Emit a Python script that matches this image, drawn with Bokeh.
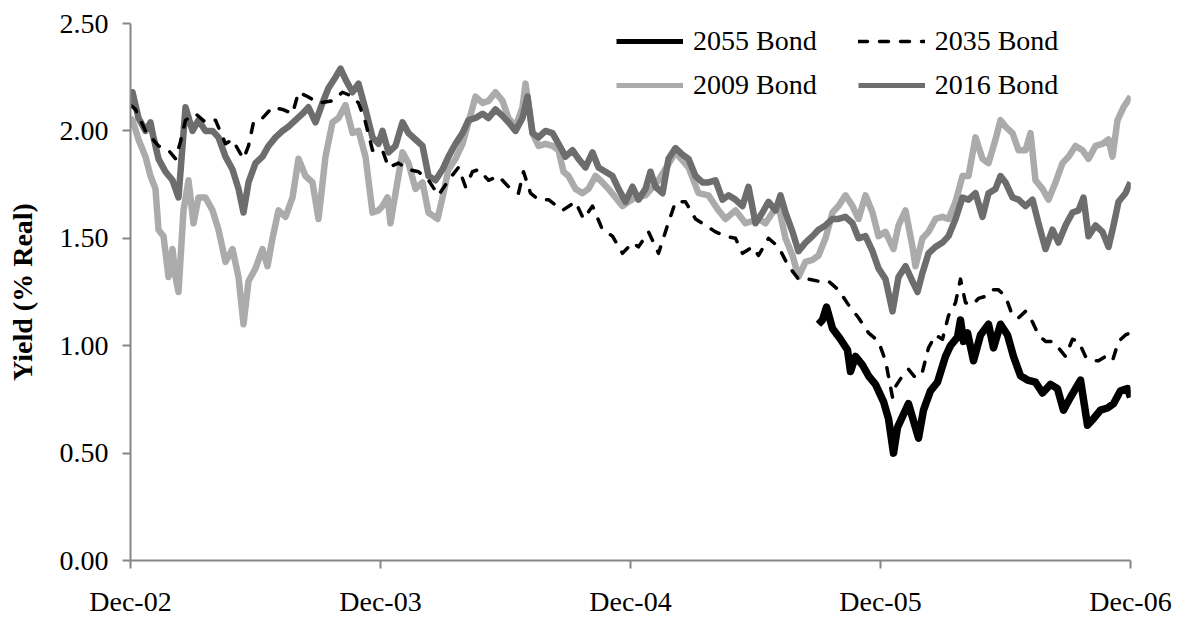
from bokeh.plotting import figure
from bokeh.models import Range1d, FixedTicker, Legend, LegendItem
from bokeh.embed import file_html
from bokeh.resources import INLINE

# x values: years after Dec-02 (0 = Dec-02, 4 = Dec-06); y values: yield (% real)
tick_years = [0, 1, 2, 3, 4]
tick_labels = ["Dec-02", "Dec-03", "Dec-04", "Dec-05", "Dec-06"]
y_ticks = [0.0, 0.5, 1.0, 1.5, 2.0, 2.5]

t2016 = [0, 0.008, 0.032, 0.06, 0.08, 0.088, 0.112, 0.14, 0.168, 0.192, 0.22, 0.248, 0.272, 0.3, 0.328,
         0.352, 0.38, 0.408, 0.432, 0.452, 0.472, 0.5, 0.528, 0.552, 0.58, 0.608, 0.632, 0.66, 0.688, 0.712,
         0.74, 0.768, 0.792, 0.82, 0.84, 0.86, 0.888, 0.912, 0.94, 0.968, 0.992, 1.008, 1.032, 1.06, 1.088,
         1.112, 1.14, 1.168, 1.192, 1.22, 1.248, 1.272, 1.3, 1.328, 1.352, 1.38, 1.408, 1.432, 1.46, 1.488,
         1.512, 1.54, 1.568, 1.588, 1.608, 1.632, 1.66, 1.688, 1.712, 1.74, 1.768, 1.792, 1.82, 1.848, 1.872,
         1.9, 1.928, 1.952, 1.98, 2.008, 2.032, 2.06, 2.08, 2.1, 2.128, 2.152, 2.18, 2.208, 2.232, 2.26,
         2.288, 2.312, 2.34, 2.368, 2.392, 2.42, 2.448, 2.472, 2.5, 2.528, 2.552, 2.58, 2.6, 2.62, 2.648,
         2.672, 2.7, 2.728, 2.752, 2.78, 2.808, 2.832, 2.86, 2.888, 2.912, 2.94, 2.968, 2.992, 3.02, 3.048,
         3.072, 3.1, 3.128, 3.148, 3.168, 3.192, 3.22, 3.248, 3.272, 3.3, 3.328, 3.352, 3.38, 3.408, 3.432,
         3.46, 3.48, 3.5, 3.528, 3.552, 3.58, 3.608, 3.632, 3.66, 3.688, 3.712, 3.74, 3.768, 3.792, 3.812,
         3.832, 3.86, 3.888, 3.912, 3.932, 3.952, 3.98, 4.0]
y2016 = [2.13, 2.18, 2.06, 2.00, 2.04, 1.99, 1.87, 1.81, 1.77, 1.69, 2.11, 2.00, 2.05, 2.00, 2.00,
         1.97, 1.88, 1.82, 1.73, 1.62, 1.76, 1.85, 1.88, 1.93, 1.97, 2.00, 2.02, 2.05, 2.08, 2.11,
         2.04, 2.13, 2.20, 2.25, 2.29, 2.24, 2.18, 2.22, 2.10, 1.97, 1.94, 2.00, 1.90, 1.93, 2.04,
         1.99, 1.96, 1.93, 1.79, 1.77, 1.82, 1.88, 1.94, 1.99, 2.05, 2.06, 2.08, 2.06, 2.10, 2.07,
         2.04, 2.00, 2.06, 2.16, 1.99, 1.97, 2.00, 1.99, 1.94, 1.88, 1.91, 1.87, 1.83, 1.90, 1.83,
         1.81, 1.79, 1.73, 1.67, 1.74, 1.68, 1.73, 1.81, 1.74, 1.71, 1.87, 1.92, 1.89, 1.87, 1.79,
         1.76, 1.76, 1.77, 1.68, 1.70, 1.68, 1.65, 1.74, 1.57, 1.62, 1.67, 1.63, 1.70, 1.62, 1.53,
         1.44, 1.48, 1.51, 1.54, 1.56, 1.59, 1.59, 1.60, 1.57, 1.50, 1.51, 1.44, 1.36, 1.31, 1.16,
         1.32, 1.37, 1.30, 1.25, 1.34, 1.43, 1.46, 1.48, 1.51, 1.59, 1.69, 1.68, 1.71, 1.60, 1.71,
         1.73, 1.79, 1.76, 1.69, 1.68, 1.65, 1.68, 1.57, 1.45, 1.54, 1.48, 1.56, 1.62, 1.63, 1.69,
         1.51, 1.56, 1.53, 1.46, 1.56, 1.67, 1.71, 1.76]

t2009 = [0, 0.008, 0.032, 0.06, 0.08, 0.1, 0.112, 0.132, 0.152, 0.168, 0.18, 0.192, 0.212, 0.232, 0.252,
         0.272, 0.3, 0.328, 0.352, 0.38, 0.408, 0.432, 0.452, 0.472, 0.5, 0.528, 0.548, 0.568, 0.592, 0.62,
         0.648, 0.672, 0.7, 0.728, 0.752, 0.78, 0.808, 0.832, 0.86, 0.888, 0.912, 0.94, 0.968, 0.992, 1.008,
         1.028, 1.04, 1.06, 1.088, 1.112, 1.14, 1.168, 1.192, 1.228, 1.248, 1.272, 1.3, 1.328, 1.352, 1.38,
         1.408, 1.432, 1.46, 1.488, 1.512, 1.54, 1.568, 1.58, 1.608, 1.632, 1.66, 1.688, 1.712, 1.732, 1.752,
         1.78, 1.808, 1.832, 1.86, 1.888, 1.912, 1.94, 1.968, 1.992, 2.02, 2.06, 2.112, 2.18, 2.232, 2.272,
         2.312, 2.352, 2.38, 2.42, 2.46, 2.512, 2.54, 2.568, 2.592, 2.62, 2.648, 2.672, 2.7, 2.728, 2.752,
         2.78, 2.808, 2.832, 2.86, 2.888, 2.912, 2.94, 2.968, 2.992, 3.02, 3.052, 3.072, 3.1, 3.128, 3.14,
         3.168, 3.192, 3.22, 3.248, 3.272, 3.3, 3.328, 3.352, 3.38, 3.408, 3.432, 3.46, 3.48, 3.5, 3.528,
         3.552, 3.58, 3.6, 3.62, 3.648, 3.672, 3.7, 3.728, 3.752, 3.78, 3.808, 3.832, 3.86, 3.888, 3.912,
         3.928, 3.948, 3.972, 4.0]
y2009 = [2.06, 2.05, 1.96, 1.88, 1.79, 1.73, 1.54, 1.51, 1.32, 1.45, 1.32, 1.25, 1.63, 1.77, 1.57,
         1.69, 1.69, 1.63, 1.54, 1.39, 1.45, 1.32, 1.10, 1.30, 1.36, 1.45, 1.37, 1.50, 1.63, 1.60,
         1.69, 1.87, 1.79, 1.76, 1.59, 1.88, 2.04, 2.06, 2.12, 1.99, 2.00, 1.88, 1.62, 1.63, 1.65,
         1.69, 1.57, 1.71, 1.90, 1.85, 1.73, 1.76, 1.62, 1.59, 1.69, 1.82, 1.87, 1.94, 2.04, 2.16,
         2.13, 2.14, 2.18, 2.14, 2.06, 2.02, 2.11, 2.22, 1.99, 1.93, 1.94, 1.93, 1.91, 1.81, 1.79,
         1.73, 1.71, 1.73, 1.79, 1.76, 1.73, 1.69, 1.65, 1.67, 1.69, 1.70, 1.77, 1.90, 1.83, 1.71,
         1.70, 1.63, 1.59, 1.63, 1.57, 1.59, 1.57, 1.62, 1.65, 1.50, 1.42, 1.32, 1.39, 1.40, 1.42,
         1.50, 1.62, 1.65, 1.70, 1.65, 1.59, 1.70, 1.62, 1.51, 1.53, 1.45, 1.56, 1.63, 1.46, 1.37,
         1.50, 1.53, 1.59, 1.60, 1.59, 1.67, 1.79, 1.79, 1.97, 1.87, 1.85, 1.96, 2.05, 2.02, 1.99,
         1.91, 1.91, 1.99, 1.77, 1.73, 1.68, 1.76, 1.85, 1.88, 1.93, 1.91, 1.87, 1.93, 1.94, 1.96,
         1.88, 2.05, 2.11, 2.16]

t2035 = [0, 0.02, 0.06, 0.112, 0.152, 0.18, 0.2, 0.22, 0.26, 0.3, 0.34, 0.38, 0.408, 0.432, 0.452,
         0.472, 0.492, 0.528, 0.568, 0.608, 0.648, 0.672, 0.708, 0.752, 0.808, 0.848, 0.888, 0.912, 0.94,
         0.968, 1.008, 1.032, 1.072, 1.112, 1.152, 1.192, 1.232, 1.272, 1.312, 1.34, 1.368, 1.392, 1.432,
         1.472, 1.512, 1.552, 1.572, 1.6, 1.632, 1.672, 1.728, 1.78, 1.812, 1.848, 1.888, 1.928, 1.968,
         2.008, 2.032, 2.072, 2.112, 2.148, 2.18, 2.22, 2.26, 2.3, 2.34, 2.38, 2.42, 2.448, 2.488, 2.512,
         2.552, 2.592, 2.632, 2.672, 2.712, 2.752, 2.792, 2.832, 2.872, 2.912, 2.952, 2.992, 3.02, 3.048,
         3.06, 3.088, 3.112, 3.14, 3.168, 3.192, 3.22, 3.248, 3.272, 3.3, 3.32, 3.34, 3.368, 3.392, 3.42,
         3.448, 3.472, 3.5, 3.528, 3.552, 3.58, 3.608, 3.632, 3.66, 3.688, 3.712, 3.74, 3.768, 3.792, 3.82,
         3.848, 3.872, 3.9, 3.928, 3.952, 3.98, 4.0]
y2035 = [2.12, 2.10, 2.00, 1.93, 1.91, 1.87, 1.95, 2.05, 2.08, 2.04, 2.05, 1.94, 1.96, 1.91, 1.87,
         1.93, 2.04, 2.06, 2.11, 2.10, 2.08, 2.18, 2.16, 2.13, 2.14, 2.18, 2.16, 2.13, 2.04,
         1.91, 1.91, 1.83, 1.85, 1.82, 1.81, 1.77, 1.70, 1.77, 1.83, 1.74, 1.81, 1.82, 1.77,
         1.79, 1.74, 1.71, 1.81, 1.71, 1.68, 1.68, 1.63, 1.67, 1.59, 1.65, 1.54, 1.51, 1.43,
         1.48, 1.46, 1.53, 1.43, 1.56, 1.67, 1.67, 1.59, 1.56, 1.53, 1.51, 1.50, 1.43, 1.46, 1.42,
         1.50, 1.46, 1.37, 1.31, 1.31, 1.30, 1.30, 1.26, 1.19, 1.13, 1.06, 1.02, 0.93, 0.76,
         0.81, 0.86, 0.89, 0.85, 0.88, 0.99, 1.05, 1.03, 1.14, 1.20, 1.31, 1.20, 1.19, 1.22, 1.23,
         1.26, 1.26, 1.23, 1.14, 1.13, 1.16, 1.11, 1.05, 1.02, 1.02, 0.99, 0.95, 1.03, 1.02, 0.95,
         0.93, 0.93, 0.95, 0.93, 1.02, 1.05, 1.06]

t2055 = [2.752, 2.768, 2.784, 2.808, 2.84, 2.868, 2.88, 2.9, 2.928, 2.952, 2.98, 3.012, 3.032, 3.052,
         3.068, 3.092, 3.112, 3.132, 3.152, 3.172, 3.2, 3.228, 3.26, 3.28, 3.308, 3.32, 3.332, 3.348,
         3.372, 3.4, 3.432, 3.452, 3.48, 3.508, 3.532, 3.56, 3.588, 3.62, 3.648, 3.68, 3.708, 3.732,
         3.76, 3.8, 3.828, 3.852, 3.88, 3.908, 3.932, 3.96, 3.988, 4.0]
y2055 = [1.10, 1.12, 1.18, 1.08, 1.03, 0.98, 0.88, 0.95, 0.91, 0.86, 0.82, 0.74, 0.66, 0.50,
         0.62, 0.68, 0.73, 0.65, 0.57, 0.70, 0.79, 0.83, 0.95, 1.00, 1.04, 1.12, 1.02, 1.06,
         0.93, 1.05, 1.10, 0.99, 1.10, 1.05, 0.95, 0.86, 0.84, 0.83, 0.78, 0.82, 0.80, 0.70,
         0.76, 0.84, 0.63, 0.66, 0.70, 0.71, 0.73, 0.79, 0.80, 0.76]

FONT = "Liberation Serif"
FSIZE = "28px"
AXIS_COLOR = "#868686"
C2009, C2016 = "#ABABAB", "#6D6D6D"

p = figure(width=1180, height=619, output_backend="svg", toolbar_location=None,
           x_range=Range1d(0, 4), y_range=Range1d(0, 2.5),
           min_border_left=130, min_border_right=50, min_border_top=23, min_border_bottom=56)
p.outline_line_color = None
p.xgrid.grid_line_color = None
p.ygrid.grid_line_color = None
p.background_fill_color = "white"
p.border_fill_color = "white"

# thinner key lines on the same data, drawn first and covered by the thicker series lines
k2009 = p.line(t2009, y2009, line_color=C2009, line_width=5, line_join="round")
k2016 = p.line(t2016, y2016, line_color=C2016, line_width=5, line_join="round")
k2055 = p.line(t2055, y2055, line_color="black", line_width=5, line_join="round")

p.line(t2009, y2009, line_color=C2009, line_width=6.5, line_join="round")
p.line(t2016, y2016, line_color=C2016, line_width=6.5, line_join="round")
r2035 = p.line(t2035, y2035, line_color="black", line_width=3.5, line_dash="9 12",
               line_cap="round", line_join="round")
p.line(t2055, y2055, line_color="black", line_width=7.5, line_join="round")

xa = p.xaxis[0]
xa.ticker = FixedTicker(ticks=tick_years)
xa.major_label_overrides = {t: lab for t, lab in zip(tick_years, tick_labels)}
ya = p.yaxis[0]
ya.ticker = FixedTicker(ticks=y_ticks)
ya.major_label_overrides = {v: f"{v:.2f}" for v in y_ticks}
ya.axis_label = "Yield (% Real)"
ya.axis_label_text_font = FONT
ya.axis_label_text_font_style = "bold"
ya.axis_label_text_font_size = FSIZE
ya.axis_label_text_color = "black"
ya.axis_label_standoff = 19

for ax in (xa, ya):
    ax.axis_line_color = AXIS_COLOR
    ax.axis_line_width = 2
    ax.major_tick_line_color = AXIS_COLOR
    ax.major_tick_line_width = 2
    ax.major_tick_in = 0
    ax.major_tick_out = 8
    ax.minor_tick_line_color = None
    ax.major_label_text_font = FONT
    ax.major_label_text_font_size = FSIZE
    ax.major_label_text_color = "black"
xa.major_label_standoff = 17
ya.major_label_standoff = 14

def make_legend(items, loc):
    lg = Legend(items=items, location=loc, orientation="horizontal",
                label_text_font=FONT, label_text_font_size=FSIZE, label_text_color="black",
                glyph_width=67, glyph_height=30, label_standoff=10, spacing=41,
                padding=0, margin=0, border_line_color=None, background_fill_alpha=0)
    p.add_layout(lg, "center")

make_legend([LegendItem(label="2055 Bond", renderers=[k2055]),
             LegendItem(label="2035 Bond", renderers=[r2035])], (486, 503))
make_legend([LegendItem(label="2009 Bond", renderers=[k2009]),
             LegendItem(label="2016 Bond", renderers=[k2016])], (486, 459))

open("out.html", "w").write(file_html(p, INLINE))
